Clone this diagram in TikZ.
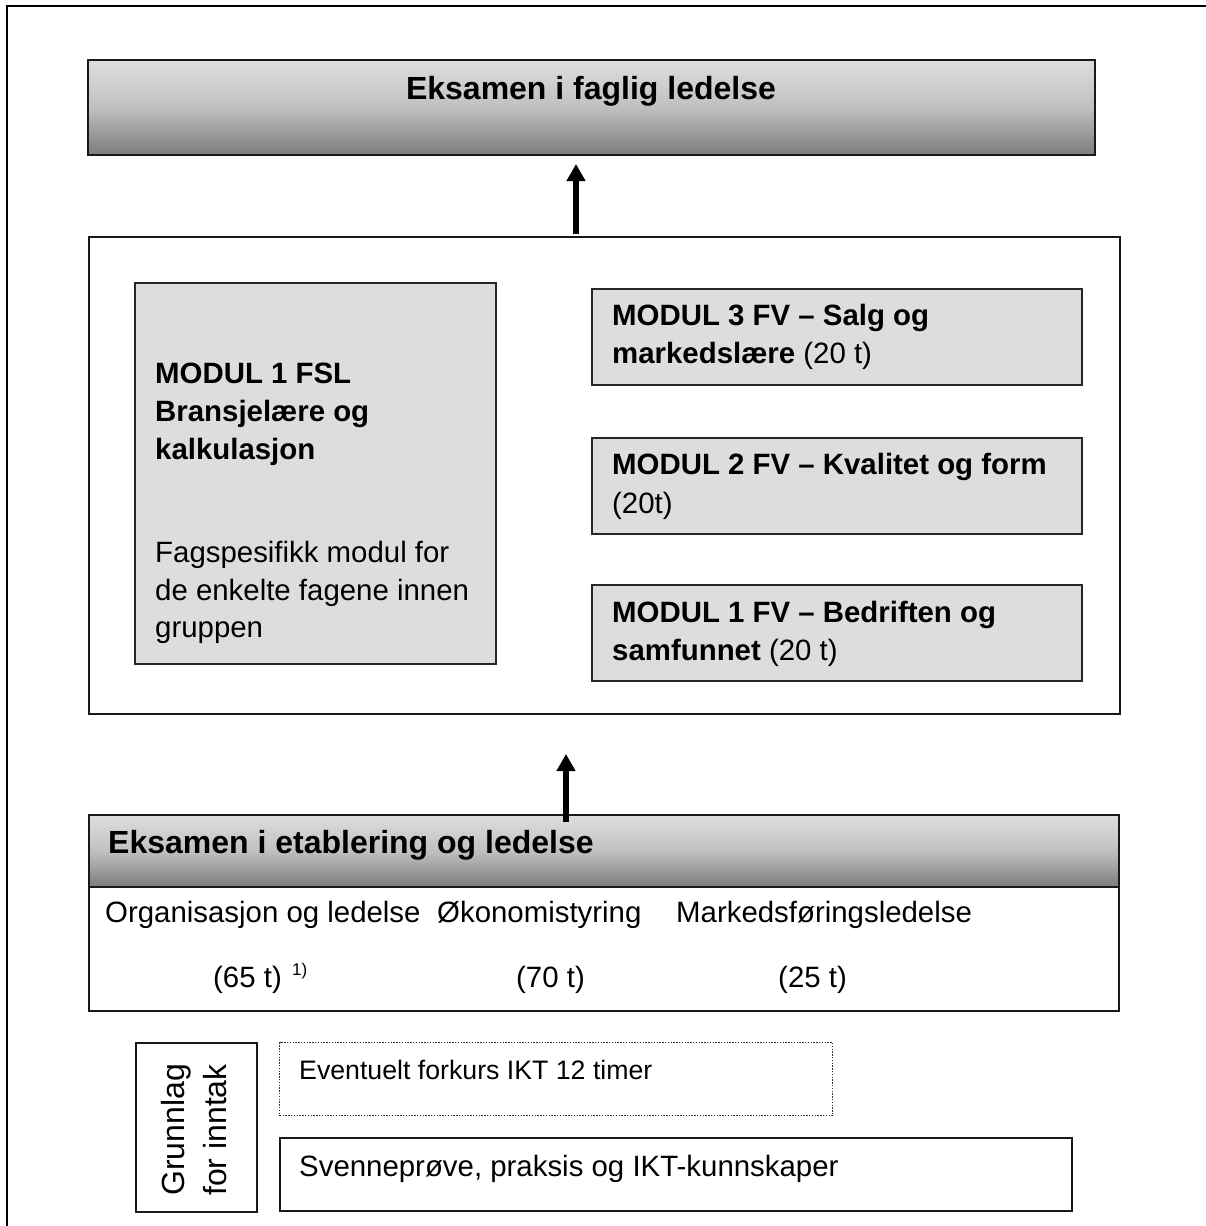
\documentclass[tikz,border=0pt]{standalone}
\usepackage{fontspec}
\setmainfont{Liberation Sans}
\usetikzlibrary{arrows.meta}
\definecolor{modfill}{RGB}{221,221,221}
\definecolor{hdtop}{RGB}{222,222,222}
\definecolor{hdmid}{RGB}{192,192,192}
\definecolor{hdbot}{RGB}{124,124,124}
\begin{document}
\begin{tikzpicture}[x=1pt,y=-1pt,
  frame/.style={draw=black,line width=2.4pt},
  plainbox/.style={draw=black!90,line width=2pt,anchor=north west,inner sep=0pt},
  modbox/.style={draw=black!85,line width=1.8pt,fill=modfill,anchor=north west,inner sep=0pt},
  hdr/.style={draw=black!90,line width=2pt,top color=hdtop,bottom color=hdbot,middle color=hdmid,anchor=north west,inner sep=0pt},
  dotbox/.style={draw=black!80,line width=1.4pt,dash pattern=on 1.4pt off 1.4pt,anchor=north west,inner sep=0pt},
  txt/.style={anchor=base west,inner sep=0pt,font=\fontsize{29.4}{36}\selectfont},
  htxt/.style={anchor=base west,inner sep=0pt,font=\fontsize{32}{38}\selectfont\bfseries},
  smalltxt/.style={anchor=base west,inner sep=0pt,font=\fontsize{26.7}{32}\selectfont},
  rottxt/.style={anchor=base west,inner sep=0pt,rotate=90,font=\fontsize{32}{38}\selectfont},
  uparrow/.style={line width=6pt,-{Triangle[length=17pt,width=18pt]}}
]
\useasboundingbox (0,0) rectangle (1206,1226);
% outer frame (top and left edges visible)
\draw[frame] (7,1226) -- (7,6) -- (1206,6);

% top exam
\node[hdr,minimum width=1007pt,minimum height=95pt] (top) at (87,59) {};
\node[htxt,anchor=base] (toptxt) at (591,99) {Eksamen i faglig ledelse};

% middle container
\node[plainbox,minimum width=1031pt,minimum height=477pt] (mid) at (88,236) {};
\node[modbox,minimum width=361pt,minimum height=381pt] (fsl) at (134,282) {};
\node[modbox,minimum width=490pt,minimum height=96pt] (m3) at (591,288) {};
\node[modbox,minimum width=490pt,minimum height=96pt] (m2) at (591,437) {};
\node[modbox,minimum width=490pt,minimum height=96pt] (m1) at (591,584) {};

\node[txt] (fsl1) at (155,383) {\bfseries MODUL 1 FSL};
\node[txt] (fsl2) at (155,421) {\bfseries Bransjelære og};
\node[txt] (fsl3) at (155,459) {\bfseries kalkulasjon};
\node[txt] (fsl4) at (155,562) {Fagspesifikk modul for};
\node[txt] (fsl5) at (155,600) {de enkelte fagene innen};
\node[txt] (fsl6) at (155,637) {gruppen};

\node[txt] (m3a) at (612,325) {\bfseries MODUL 3 FV – Salg og};
\node[txt] (m3b) at (612,363) {\textbf{markedslære} (20 t)};
\node[txt] (m2a) at (612,474) {\bfseries MODUL 2 FV – Kvalitet og form};
\node[txt] (m2b) at (612,513) {(20t)};
\node[txt] (m1a) at (612,622) {\bfseries MODUL 1 FV – Bedriften og};
\node[txt] (m1b) at (612,660) {\textbf{samfunnet} (20 t)};

% lower exam
\node[plainbox,minimum width=1030pt,minimum height=196pt] (exam) at (88,814) {};
\node[hdr,minimum width=1030pt,minimum height=72pt] (examhdr) at (88,814) {};
\node[htxt] (examtxt) at (108,853) {Eksamen i etablering og ledelse};
\node[txt] (org) at (105,922) {Organisasjon og ledelse};
\node[txt] (oko) at (437,922) {Økonomistyring};
\node[txt] (mark) at (676,922) {Markedsføringsledelse};
\node[txt] (h65) at (213,987) {(65 t)};
\node[anchor=base west,inner sep=0pt,font=\fontsize{17}{20}\selectfont] (fn) at (292,975) {1)};
\node[txt] (h70) at (516,987) {(70 t)};
\node[txt] (h25) at (778,987) {(25 t)};

% intake basis
\node[plainbox,minimum width=121pt,minimum height=169pt] (grl) at (135,1042) {};
\node[rottxt] (grl1) at (184,1196) {Grunnlag};
\node[rottxt] (grl2) at (226,1196) {for inntak};
\node[dotbox,minimum width=553pt,minimum height=73pt] (fork) at (279,1042) {};
\node[smalltxt] (forktxt) at (299,1079) {Eventuelt forkurs IKT 12 timer};
\node[plainbox,minimum width=792pt,minimum height=73pt] (sven) at (279,1137) {};
\node[txt] (sventxt) at (299,1176) {Svenneprøve, praksis og IKT-kunnskaper};

% arrows
\coordinate (a1x) at (576,0);
\coordinate (a2x) at (566,0);
\draw[uparrow,shorten >=8pt] ([yshift=2pt]mid.north -| a1x) -- (top.south -| a1x);
\draw[uparrow,shorten >=39pt] ([yshift=-8pt]examhdr.north -| a2x) -- (mid.south -| a2x);
\end{tikzpicture}
\end{document}
